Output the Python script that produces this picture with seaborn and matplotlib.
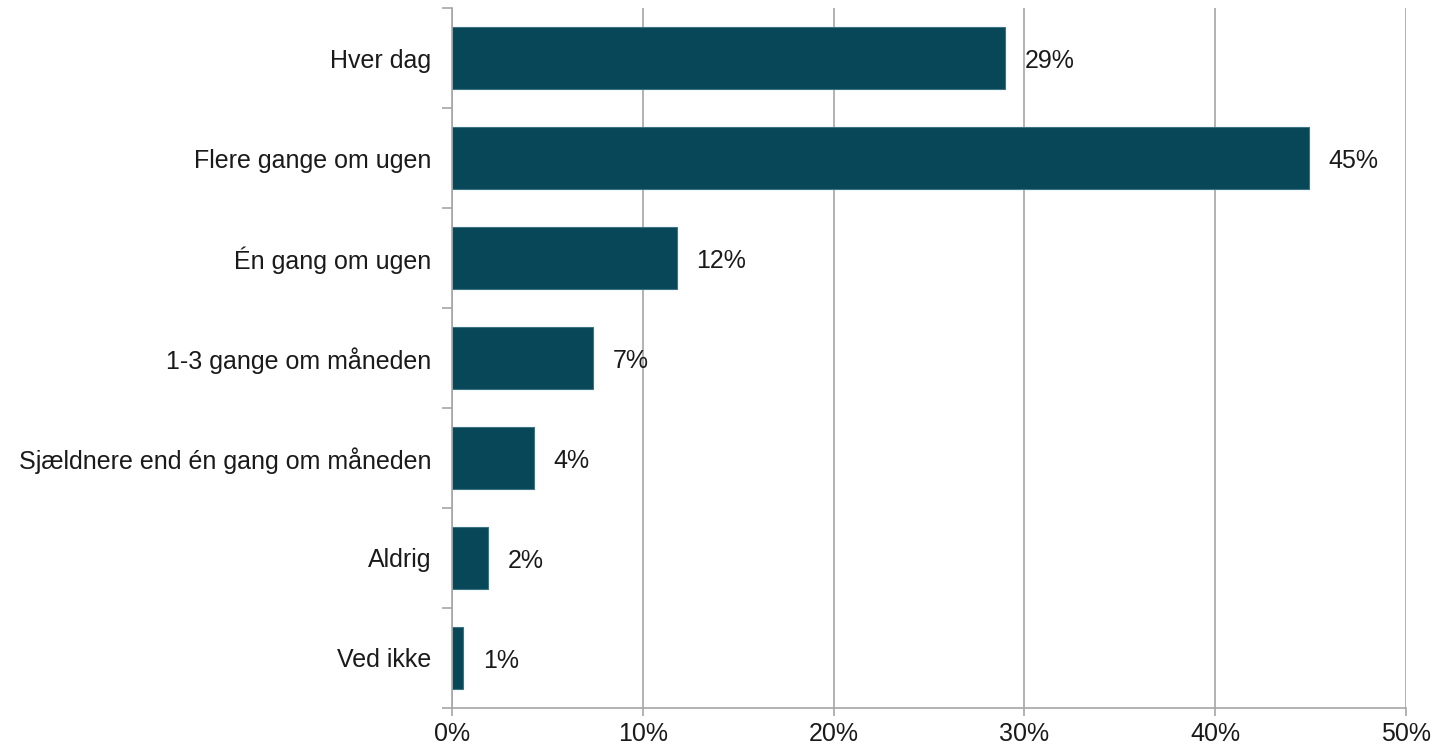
import numpy as np
import pandas as pd
import matplotlib
matplotlib.use("Agg")
import matplotlib.pyplot as plt
import seaborn as sns
from matplotlib.ticker import FixedLocator, PercentFormatter

# Data (percent)
categories = [
    "Hver dag",
    "Flere gange om ugen",
    "Én gang om ugen",
    "1-3 gange om måneden",
    "Sjældnere end én gang om måneden",
    "Aldrig",
    "Ved ikke",
]
values = [29.0, 44.9, 11.8, 7.4, 4.3, 1.9, 0.6]
labels = ["29%", "45%", "12%", "7%", "4%", "2%", "1%"]

df = pd.DataFrame({"category": categories, "value": values})

sns.set_theme(style="white")
plt.rcParams["font.family"] = ["Liberation Sans", "DejaVu Sans"]

bar_color = "#074757"
grey = "#a6a6a6"
text_color = "#1a1a1a"
fs = 18

fig = plt.figure(figsize=(14.39, 7.44), dpi=100)
ax = fig.add_axes([0.3141, 0.0484, 0.6630, 0.9408])

sns.barplot(data=df, x="value", y="category", orient="h", color=bar_color,
            width=0.62, edgecolor="#3d7483", linewidth=0.8, saturation=1, ax=ax)

ax.set_xlim(0, 50)
ax.set_ylim(len(categories) - 0.5, -0.5)
ax.set_xticks(np.arange(0, 51, 10))
ax.xaxis.set_major_formatter(PercentFormatter(decimals=0))
ax.set_xlabel("")
ax.set_ylabel("")

ax.xaxis.grid(True, color=grey, linewidth=1.2)
ax.yaxis.grid(False)
ax.set_axisbelow(True)

for side in ["top", "right"]:
    ax.spines[side].set_visible(False)
for side in ["left", "bottom"]:
    ax.spines[side].set_color(grey)
    ax.spines[side].set_linewidth(1.2)

# category boundary ticks on y-axis
ax.yaxis.set_minor_locator(FixedLocator(np.arange(-0.5, len(categories), 1.0)))
ax.tick_params(axis="y", which="major", length=0, pad=15, labelsize=fs, labelcolor=text_color)
ax.tick_params(axis="y", which="minor", length=7, width=1.2, color=grey, left=True)
ax.tick_params(axis="x", which="major", length=6, width=1.2, color=grey, bottom=True,
               labelsize=fs, labelcolor=text_color, pad=4)

for i, (v, lab) in enumerate(zip(values, labels)):
    ax.annotate(lab, xy=(v, i), xytext=(14, -2), textcoords="offset points",
                va="center", ha="left", fontsize=fs, color=text_color)

fig.savefig("out.png", dpi=100)
